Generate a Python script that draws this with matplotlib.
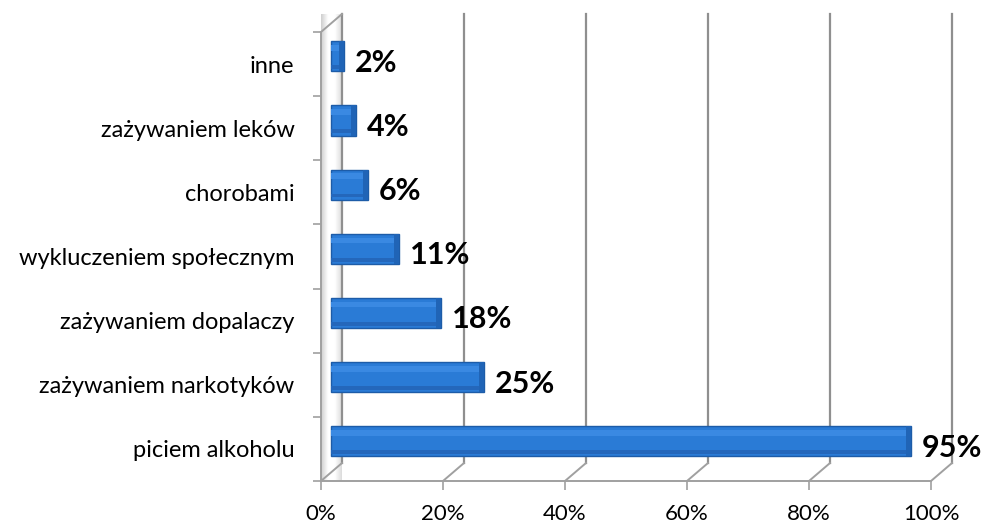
import numpy as np
import matplotlib.pyplot as plt
from matplotlib.colors import LinearSegmentedColormap
from matplotlib.patches import Polygon

# data
categories = ["piciem alkoholu", "zażywaniem narkotyków", "zażywaniem dopalaczy",
              "wykluczeniem społecznym", "chorobami", "zażywaniem leków", "inne"]
values = [95, 25, 18, 11, 6, 4, 2]
xticks = [0, 20, 40, 60, 80, 100]
xtick_labels = ["0%", "20%", "40%", "60%", "80%", "100%"]

plt.rcParams['font.family'] = ['Lato', 'DejaVu Sans']

fig = plt.figure(figsize=(9.87, 5.27), dpi=100)
ax = fig.add_axes([321 / 987, 46 / 527, 610 / 987, 449 / 527])

n = len(categories)
ax.set_xlim(0, 100)
ax.set_ylim(-0.5, n - 0.5)

# depth of the fake 3d box, in data units
dx = 3.44
dy = 0.28
grid_col = "#8f8f8f"
axis_col = "#a0a0a0"

# left wall shading
wall = Polygon([[0, -0.5], [dx, -0.5 + dy], [dx, n - 0.5 + dy], [0, n - 0.5]],
               closed=True, facecolor="none", edgecolor="none")
ax.add_patch(wall)
wall.set_clip_on(False)
grad = np.linspace(0, 1, 50).reshape(1, -1)
cm = LinearSegmentedColormap.from_list("w", ["#cfcfcf", "#ffffff", "#ffffff", "#dcdcdc"])
im = ax.imshow(grad, extent=[0, dx, -0.5, n - 0.5 + dy], aspect="auto",
               cmap=cm, zorder=0.5, clip_on=False)
im.set_clip_path(wall)

# back wall grid lines + floor diagonals
for x in xticks:
    ax.plot([x + dx, x + dx], [-0.5 + dy, n - 0.5 + dy], color=grid_col, lw=1.6,
            clip_on=False, zorder=1)
    ax.plot([x, x + dx], [-0.5, -0.5 + dy], color=axis_col, lw=1.4,
            clip_on=False, zorder=1)
ax.plot([0, dx], [n - 0.5, n - 0.5 + dy], color=axis_col, lw=1.4, clip_on=False)

# bars
y = np.arange(n) + 0.12
h = 0.47
ax.barh(y, values, height=h, left=dx / 2, color="#2a7bd6",
        edgecolor="#1d5ca8", linewidth=1, zorder=3)
ax.barh(y + 0.13, values, height=0.09, left=dx / 2, color="#3a89e2",
        linewidth=0, zorder=4)
ax.barh(y - 0.17, values, height=0.06, left=dx / 2, color="#2467bb",
        linewidth=0, zorder=4)
ax.barh(y, [0.8] * n, height=h, left=np.array(values) + dx / 2 - 0.8,
        color="#2064b6", linewidth=0, zorder=4)

for yi, v in zip(y, values):
    ax.text(v + dx / 2 + 1.8, yi - 0.1, f"{v}%", fontsize=22, fontweight="bold",
            ha="left", va="center", zorder=5, clip_on=False)

# axes
ax.set_yticks(np.arange(n))
ax.set_yticklabels(categories, fontsize=17)
ax.set_yticks(np.arange(n + 1) - 0.5, minor=True)
ax.tick_params(axis="y", which="major", length=0, pad=19)
ax.tick_params(axis="y", which="minor", length=5.5, width=1.2, color=axis_col)
ax.set_xticks(xticks)
ax.set_xticklabels(xtick_labels, fontsize=16)
ax.tick_params(axis="x", length=6.5, width=1.2, color=axis_col, pad=10)

for s in ["top", "right"]:
    ax.spines[s].set_visible(False)
for s in ["left", "bottom"]:
    ax.spines[s].set_color(axis_col)
    ax.spines[s].set_linewidth(1.4)
ax.patch.set_visible(False)

fig.savefig("out.png", dpi=100)
